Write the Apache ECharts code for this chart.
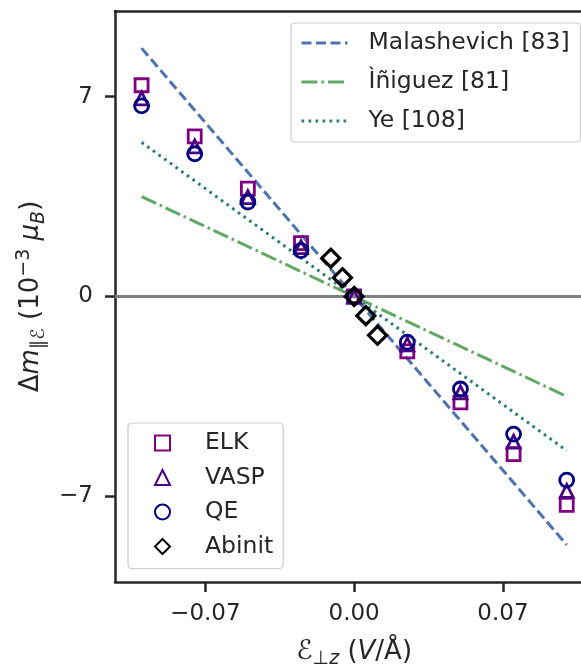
<!DOCTYPE html>
<html>
<head>
<meta charset="utf-8">
<script src="https://cdn.jsdelivr.net/npm/echarts@6/dist/echarts.min.js"></script>
<style>
  html, body { margin: 0; padding: 0; background: #fff; }
  #chart { width: 581px; height: 668px; }
</style>
</head>
<body>
<div id="chart"></div>
<script>
// field values (V/A) and magnetization changes (10^-3 muB)
const fields = [-0.1, -0.075, -0.05, -0.025, 0, 0.025, 0.05, 0.075, 0.1];
const elk = [7.4, 5.61, 3.78, 1.87, 0, -1.92, -3.71, -5.52, -7.3];
const vasp = [6.94, 5.26, 3.48, 1.73, 0, -1.68, -3.36, -5.08, -6.81];
const qe = [6.68, 5.0, 3.31, 1.61, 0, -1.6, -3.24, -4.82, -6.43];
const abinitFields = [-0.011, -0.0055, 0, 0.0055, 0.011];
const abinit = [1.34, 0.66, 0, -0.67, -1.36];

// reference fits, given at the two ends
const fitFields = [-0.1, 0.1];
const malashevich = [8.7, -8.7];
const iniguez = [3.5, -3.5];
const ye = [5.4, -5.4];

const xTicks = [-0.07, 0, 0.07];
const yTicks = [-7, 0, 7];

const ink = '#262626';
const font = 'DejaVu Sans';

const pairs = (xs, ys) => xs.map((x, i) => [x, ys[i]]);
const minus = (s) => s.replace('-', '\u2212');

let chart = echarts.init(document.getElementById('chart'));

const marker = (name, data, symbol, size, color, lw) => ({
    name: name,
    type: 'scatter',
    data: data,
    symbol: symbol,
    symbolSize: size,
    z: 5,
    itemStyle: {
        color: 'rgba(0,0,0,0)',
        borderColor: color,
        borderWidth: lw,
        opacity: 1
    }
});

const fit = (name, data, color, dash) => ({
    name: name,
    type: 'line',
    data: data,
    symbol: 'none',
    z: 3,
    lineStyle: {
        color: color,
        width: 3,
        type: dash,
        cap: 'butt'
    },
    itemStyle: { color: color }
});

// math-ish rich text pieces for the axis names
const mathRich = {
    t: { fontSize: 26, fontFamily: font, color: ink, lineHeight: 34, verticalAlign: 'middle' },
    i: { fontSize: 26, fontFamily: font, fontStyle: 'italic', color: ink, lineHeight: 34, verticalAlign: 'middle' },
    s: { fontSize: 27, fontFamily: font, color: ink, lineHeight: 34, verticalAlign: 'middle' },
    sub: { fontSize: 19, fontFamily: font, fontStyle: 'italic', color: ink, lineHeight: 34, verticalAlign: 'bottom' },
    sup: { fontSize: 19, fontFamily: font, color: ink, lineHeight: 34, verticalAlign: 'top' }
};

const legendText = {
    fontSize: 23.5,
    fontFamily: font,
    color: ink,
    lineHeight: 26
};

const hideDot = (name) => ({ name: name, itemStyle: { opacity: 0 } });

chart.setOption({
    animation: false,
    backgroundColor: '#fff',
    grid: {
        left: 115,
        top: 11,
        width: 478.3,
        height: 571,
        outerBoundsMode: 'none',
        containLabel: false
    },
    xAxis: [
        {
            type: 'value',
            min: -0.1125,
            max: 0.1125,
            position: 'bottom',
            splitLine: { show: false },
            axisLine: { onZero: false, lineStyle: { color: ink, width: 2.5 } },
            axisTick: {
                customValues: xTicks,
                length: 10,
                lineStyle: { color: ink, width: 2.5 }
            },
            axisLabel: {
                customValues: xTicks,
                margin: 21,
                fontSize: 23,
                fontFamily: font,
                color: ink,
                formatter: (v) => minus(v.toFixed(2))
            },
            name: '{s|ℰ}{sub|⊥z}{t| (}{i|V}{t|/Å)}',
            nameLocation: 'middle',
            nameGap: 53,
            nameTextStyle: { rich: mathRich }
        },
        {
            type: 'value',
            min: -0.1125,
            max: 0.1125,
            position: 'top',
            splitLine: { show: false },
            axisLine: { onZero: false, lineStyle: { color: ink, width: 2.5 } },
            axisTick: { show: false },
            axisLabel: { show: false }
        }
    ],
    yAxis: {
        type: 'value',
        min: -10,
        max: 10,
        splitLine: { show: false },
        axisLine: { show: true, onZero: false, lineStyle: { color: ink, width: 2.5 } },
        axisTick: {
            show: true,
            customValues: yTicks,
            length: 10,
            lineStyle: { color: ink, width: 2.5 }
        },
        axisLabel: {
            customValues: yTicks,
            margin: 22,
            fontSize: 23,
            fontFamily: font,
            color: ink,
            formatter: (v) => minus(String(v))
        },
        name: '{t|Δ}{i|m}{sub|∥ℰ}{t| (10}{sup|−3}{t| }{i|μ}{sub|B}{t|)}',
        nameLocation: 'middle',
        nameGap: 40,
        nameTextStyle: { rich: mathRich }
    },
    legend: [
        {
            data: [hideDot('Malashevich [83]'), hideDot('Ìñiguez [81]'), hideDot('Ye [108]')],
            orient: 'vertical',
            left: 291,
            top: 23,
            itemWidth: 46,
            itemHeight: 14,
            itemGap: 13,
            padding: [7, 11, 8, 9],
            backgroundColor: 'rgba(255,255,255,0.85)',
            borderColor: '#cccccc',
            borderWidth: 1.2,
            borderRadius: 4,
            lineStyle: { width: 3 },
            textStyle: Object.assign({ padding: [0, 0, 0, 16] }, legendText)
        },
        {
            data: ['ELK', 'VASP', 'QE', 'Abinit'],
            orient: 'vertical',
            left: 128,
            top: 423,
            itemWidth: 15,
            itemHeight: 15,
            itemGap: 8.5,
            padding: [7, 10, 9, 26],
            backgroundColor: 'rgba(255,255,255,0.85)',
            borderColor: '#cccccc',
            borderWidth: 1.2,
            borderRadius: 4,
            textStyle: Object.assign({ padding: [0, 0, 0, 30] }, legendText)
        }
    ],
    series: [
        {
            name: 'zero',
            type: 'line',
            data: [],
            z: 1,
            markLine: {
                silent: true,
                symbol: ['none', 'none'],
                label: { show: false },
                lineStyle: { color: '#808080', width: 3, type: 'solid' },
                data: [{ yAxis: 0 }]
            }
        },
        fit('Malashevich [83]', pairs(fitFields, malashevich), '#4c72b0', [10, 4.5]),
        fit('Ìñiguez [81]', pairs(fitFields, iniguez), '#62a865', [16, 4, 2.5, 4]),
        fit('Ye [108]', pairs(fitFields, ye), '#2b7d7b', [2.7, 4.3]),
        marker('ELK', pairs(fields, elk), 'rect', 13, '#800080', 2.8),
        marker('VASP', pairs(fields, vasp), 'triangle', 13, '#4b0082', 2.8),
        marker('QE', pairs(fields, qe), 'circle', 14, '#000080', 2.8),
        marker('Abinit', pairs(abinitFields, abinit), 'diamond', 18, '#000000', 3.2)
    ]
});
</script>
</body>
</html>
